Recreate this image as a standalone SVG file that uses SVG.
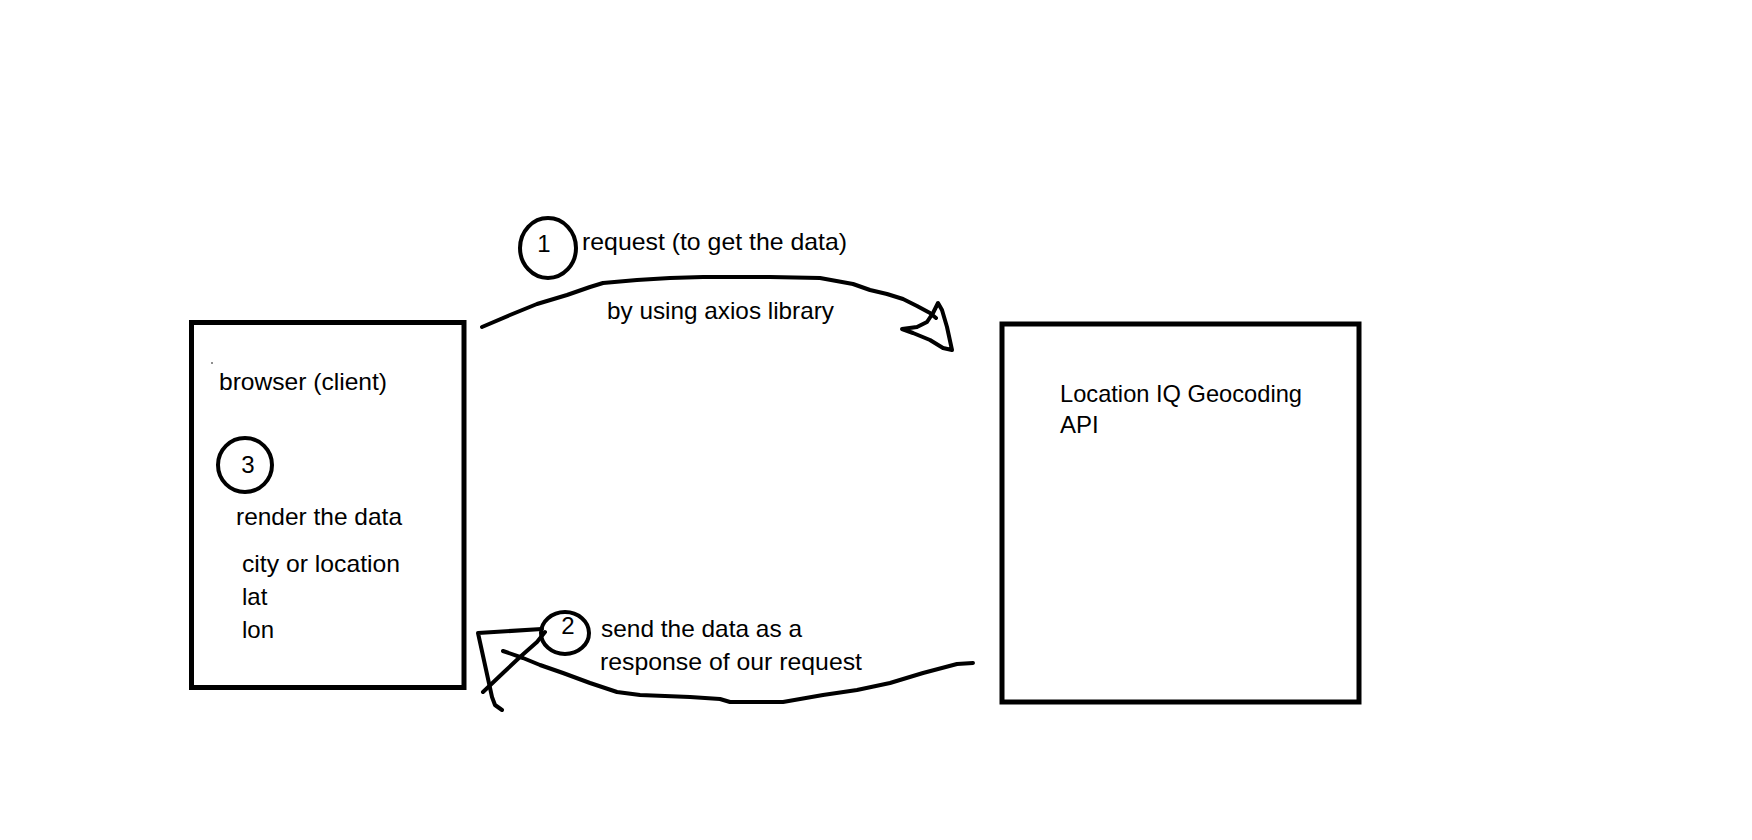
<svg xmlns="http://www.w3.org/2000/svg" width="1752" height="840" viewBox="0 0 1752 840">
<style>
.box{fill:none;stroke:#000;stroke-width:5}
.ring{fill:none;stroke:#000;stroke-width:4}
.ink{fill:none;stroke:#000;stroke-width:4;stroke-linecap:round;stroke-linejoin:round}
text{font-family:"Liberation Sans",Arial,sans-serif;font-size:24px;fill:#000}
.mid{text-anchor:middle}
</style>
<rect width="1752" height="840" fill="#fff"/>
<g id="browser">
<rect class="box" x="191.5" y="322.5" width="272.5" height="365"/>
<circle cx="212" cy="363" r="0.8" fill="#000"/>
<text x="219" y="390" textLength="168" lengthAdjust="spacingAndGlyphs">browser (client)</text>
<text x="236" y="525" textLength="166" lengthAdjust="spacingAndGlyphs">render the data</text>
<text x="242" y="572" textLength="158" lengthAdjust="spacingAndGlyphs">city or location</text>
<text x="242" y="605">lat</text>
<text x="242" y="638">lon</text>
</g>
<g id="step3">
<ellipse class="ring" cx="245" cy="465" rx="27" ry="27"/>
<text class="mid" x="248" y="473">3</text>
</g>
<g id="api">
<rect class="box" x="1002" y="324" width="357" height="378"/>
<text x="1060" y="402" textLength="242" lengthAdjust="spacingAndGlyphs">Location IQ Geocoding</text>
<text x="1060" y="433">API</text>
</g>
<g id="step1">
<ellipse class="ring" cx="548" cy="248" rx="28" ry="30"/>
<text class="mid" x="544" y="252">1</text>
<text x="582" y="250" textLength="265" lengthAdjust="spacingAndGlyphs">request (to get the data)</text>
<text x="607" y="319" textLength="227" lengthAdjust="spacingAndGlyphs">by using axios library</text>
</g>
<g id="step2">
<ellipse class="ring" cx="565" cy="633" rx="24" ry="21"/>
<text class="mid" x="568" y="634">2</text>
<text x="601" y="637" textLength="201" lengthAdjust="spacingAndGlyphs">send the data as a</text>
<text x="600" y="670" textLength="262" lengthAdjust="spacingAndGlyphs">response of our request</text>
</g>
<g id="connectors">
<path class="ink" d="M482,327 L510,315 L537,304 L567,295 L590,287 L603,283 L637,280 L670,278 L703,277 L770,277 L820,278 L853,284 L870,290 L887,294 L903,299 L917,306 L930,313 L936,318"/>
<path class="ink" d="M938,303 L933,313 L927,322 L917,327 L902,329 L913,333 L930,340 L943,348 L952,350 L947,327 L942,310 Z"/>
<path class="ink" d="M973,663 L957,664 L923,673 L890,683 L857,690 L823,695 L783,702 L730,702 L720,699 L690,697 L640,695 L617,692 L590,683 L563,673 L540,665 L523,658 L503,651"/>
<path class="ink" d="M542,629 L478,633 L492,697 L495,705 L502,710"/>
<path class="ink" d="M483,692 L503,673 L520,657 L537,642 L545,632"/>
</g>
</svg>
